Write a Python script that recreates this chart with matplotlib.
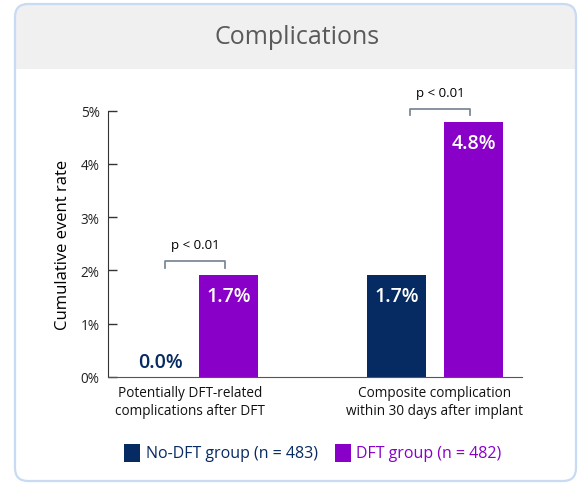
import matplotlib
matplotlib.use('Agg')
from matplotlib import pyplot as plt
from matplotlib.patches import FancyBboxPatch, Rectangle

plt.rcParams['font.family'] = ['Open Sans', 'DejaVu Sans']

categories = ['Potentially DFT-related\ncomplications after DFT',
              'Composite complication\nwithin 30 days after implant']
groups = ['No-DFT group (n = 483)', 'DFT group (n = 482)']
no_dft = [0.0, 1.92]
dft = [1.92, 4.79]
no_dft_labels = ['0.0%', '1.7%']
dft_labels = ['1.7%', '4.8%']
p_texts = ['p < 0.01', 'p < 0.01']
y_ticks = [0, 1, 2, 3, 4, 5]

navy = '#062a62'
purple = '#8900c9'
grey_br = '#7d8a96'

fig = plt.figure(figsize=(5.8, 4.85), dpi=100)

# card background and header
card = FancyBboxPatch((0.15, 0.03), 5.61, 4.77, boxstyle='round,pad=0,rounding_size=0.13',
                      transform=fig.dpi_scale_trans, facecolor='white', edgecolor='none', zorder=-4)
header = FancyBboxPatch((0.15, 3.9), 5.61, 0.9, boxstyle='round,pad=0,rounding_size=0.13',
                        transform=fig.dpi_scale_trans, facecolor='#f0f0f0', edgecolor='none', zorder=-3)
cover = Rectangle((0.15, 3.7), 5.61, 0.45, transform=fig.dpi_scale_trans,
                  facecolor='white', edgecolor='none', zorder=-2)
border = FancyBboxPatch((0.15, 0.03), 5.61, 4.77, boxstyle='round,pad=0,rounding_size=0.13',
                        transform=fig.dpi_scale_trans, facecolor='none', edgecolor='#c8dbf2',
                        linewidth=1.6, zorder=-1)
for p in (card, header, cover, border):
    fig.patches.append(p)

fig.text(297 / 580, 1 - 38 / 485, 'Complications', ha='center', va='center',
         fontsize=18, color='#5a5a5a')

ax = fig.add_axes([108 / 580, 1 - 378 / 485, (522 - 108) / 580, (378 - 85) / 485])
ax.set_facecolor('none')

x = [0, 1]
w = 0.241
off = 0.1575
ax.bar([i - off for i in x], no_dft, w, color=navy, zorder=2)
ax.bar([i + off for i in x], dft, w, color=purple, zorder=2)

ax.text(0 - off + 0.035, 0.28, no_dft_labels[0], ha='center', va='center',
        fontsize=14, color=navy, fontweight='semibold')
ax.text(1 - off, no_dft[1] - 0.4, no_dft_labels[1], ha='center', va='center',
        fontsize=14, color='white', fontweight='semibold')
for i in x:
    ax.text(i + off, dft[i] - 0.4, dft_labels[i], ha='center', va='center',
            fontsize=14, color='white', fontweight='semibold')

# significance brackets
br_y = [2.18, 5.04]
for i in x:
    c = i + 0.02
    hw = 0.122
    ax.plot([c - hw, c - hw, c + hw, c + hw], [br_y[i] - 0.13, br_y[i], br_y[i], br_y[i] - 0.13],
            color=grey_br, linewidth=1.3, clip_on=False)
    ax.text(c, br_y[i] + 0.18, p_texts[i], ha='center', va='bottom', fontsize=9.5, color='black')

ax.set_xlim(-0.337, 1.356)
ax.set_ylim(0, 5.5)
ax.set_yticks(y_ticks)
ax.set_yticklabels([f'{t}%' for t in y_ticks])
ax.set_xticks(x)
ax.set_xticklabels(categories, fontsize=9.8, color='#111111')
ax.tick_params(axis='x', length=0, pad=6)
ax.tick_params(axis='y', direction='in', length=6.5, labelsize=9.8, labelcolor='#222222',
               pad=6, width=1, color='#333333')
for s in ('top', 'right'):
    ax.spines[s].set_visible(False)
ax.spines['left'].set_bounds(0, 5)
ax.spines['left'].set_color('#333333')
ax.spines['bottom'].set_color('#555555')

fig.text(63 / 580, 1 - 245 / 485, 'Cumulative event rate', rotation=90, ha='center', va='center',
         fontsize=12, color='black')

# legend
leg_y = 1 - 454 / 485
fig.patches.append(Rectangle((124 / 580, 1 - 463 / 485), 16 / 580, 18 / 485,
                             transform=fig.transFigure, facecolor=navy, edgecolor='none'))
fig.text(146 / 580, leg_y, groups[0], ha='left', va='center', fontsize=11.5, color=navy)
fig.patches.append(Rectangle((335 / 580, 1 - 463 / 485), 16 / 580, 18 / 485,
                             transform=fig.transFigure, facecolor=purple, edgecolor='none'))
fig.text(356 / 580, leg_y, groups[1], ha='left', va='center', fontsize=11.5, color=purple)

fig.savefig('out.png', dpi=100)
